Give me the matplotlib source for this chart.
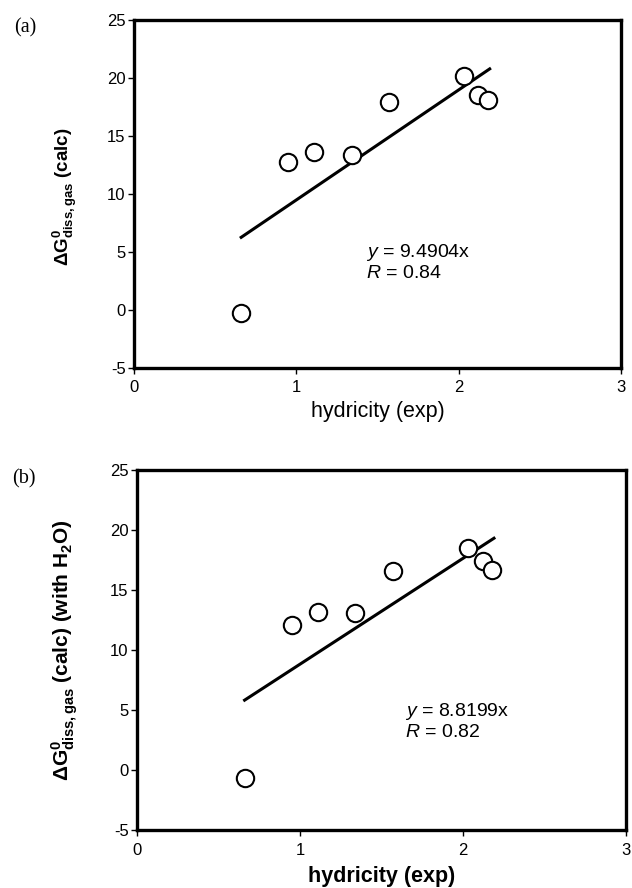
import numpy as np
import matplotlib.pyplot as plt

plt.rcParams["font.family"] = ["Liberation Sans", "DejaVu Sans"]
plt.rcParams["mathtext.fontset"] = "custom"
plt.rcParams["mathtext.rm"] = "Liberation Sans"
plt.rcParams["mathtext.it"] = "Liberation Sans:italic"
plt.rcParams["mathtext.bf"] = "Liberation Sans:bold"
plt.rcParams["axes.unicode_minus"] = False

# hydricity (exp), same compounds in both panels
hydricidad = [0.66, 0.95, 1.11, 1.34, 1.57, 2.03, 2.12, 2.18]
# calculated dissociation free energies
dg_gas = [-0.3, 12.8, 13.6, 13.4, 17.9, 20.2, 18.5, 18.1]
dg_agua = [-0.7, 12.1, 13.2, 13.1, 16.6, 18.5, 17.4, 16.7]

pendiente_a = 9.4904
pendiente_b = 8.8199
r_a = 0.84
r_b = 0.82

xticks = [0, 1, 2, 3]
yticks = [-5, 0, 5, 10, 15, 20, 25]

fig = plt.figure(figsize=(6.32, 8.88), dpi=100)
ax_a = fig.add_axes([0.212, 0.5856, 0.771, 0.3919])
ax_b = fig.add_axes([0.2168, 0.0653, 0.7737, 0.4054])

paneles = [
    (ax_a, dg_gas, pendiente_a, r_a, (1.43, 4.1), "normal", 4),
    (ax_b, dg_agua, pendiente_b, r_b, (1.645, 4.1), "bold", 6),
]

for ax, ys, m, r, pos_txt, peso, lp in paneles:
    x = np.array(hydricidad)
    xs = np.array([x.min(), x.max() + 0.01])
    ax.plot(xs, m * xs, color="black", lw=2.2, zorder=2)
    ax.plot(x, ys, "o", ms=12.5, mfc="white", mec="black", mew=1.5, zorder=3)
    ax.set_xlim(0, 3)
    ax.set_ylim(-5, 25)
    ax.set_xticks(xticks)
    ax.set_yticks(yticks)
    ax.tick_params(direction="out", length=4, width=1, labelsize=12)
    ax.tick_params(axis="x", pad=5)
    ax.tick_params(axis="y", pad=2)
    for s in ax.spines.values():
        s.set_linewidth(2.4)
    ax.set_xlabel("hydricity (exp)", fontsize=15.5, fontweight=peso, labelpad=lp)
    ax.text(pos_txt[0], pos_txt[1], f"$y$ = {m:.4f}x\n$R$ = {r:.2f}",
            fontsize=14, va="center", ha="left", linespacing=1.15)

fig.text(0.103, 0.778, r"$\mathbf{\Delta G^{0}_{diss,gas}}$ (calc)",
         rotation=90, ha="center", va="center", fontsize=13.5, fontweight="bold")
fig.text(0.103, 0.268, r"$\mathbf{\Delta G^{0}_{diss,gas}}$ (calc) (with H$_\mathbf{2}$O)",
         rotation=90, ha="center", va="center", fontsize=15, fontweight="bold")

fig.text(0.022, 0.969, "(a)", family="Liberation Serif", fontsize=14.5, va="center")
fig.text(0.019, 0.461, "(b)", family="Liberation Serif", fontsize=14.5, va="center")

fig.savefig("out.png", dpi=100)
